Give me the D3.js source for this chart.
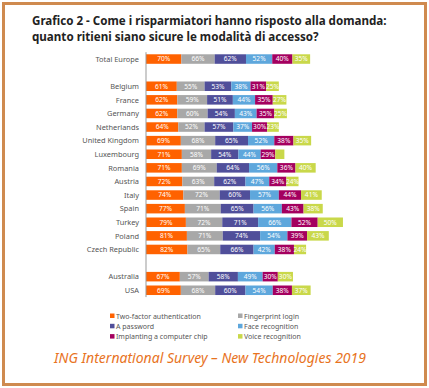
<!DOCTYPE html>
<html>
<head>
<meta charset="utf-8">
<script src="https://cdn.jsdelivr.net/npm/d3@7"></script>
<style>
  body { margin: 0; background: #fff; }
  svg { display: block; }
</style>
</head>
<body>
<svg id="chart" width="429" height="388"></svg>
<script>
// rows ("_gap" entries are empty spacer rows)
var categories = ["Total Europe", "_gap1", "Belgium", "France", "Germany", "Netherlands",
	"United Kingdom", "Luxembourg", "Romania", "Austria", "Italy", "Spain", "Turkey",
	"Poland", "Czech Republic", "_gap2", "Australia", "USA"];

var seriesNames = ["Two-factor authentication", "Fingerprint login", "A password",
	"Face recognition", "Implanting a computer chip", "Voice recognition"];

var twoFactor   = [70, null, 61, 62, 62, 64, 69, 71, 71, 72, 74, 77, 79, 81, 82, null, 67, 69];
var fingerprint = [66, null, 55, 59, 60, 52, 68, 58, 69, 63, 72, 71, 72, 71, 65, null, 57, 68];
var password    = [62, null, 53, 51, 54, 57, 65, 54, 64, 62, 60, 65, 71, 74, 66, null, 58, 60];
var face        = [52, null, 38, 44, 43, 37, 52, 44, 56, 47, 57, 56, 66, 54, 42, null, 49, 54];
var chip        = [40, null, 31, 35, 35, 30, 38, 29, 36, 34, 44, 43, 52, 39, 38, null, 30, 38];
var voice       = [35, null, 25, 27, 25, 23, 35, 18, 40, 24, 41, 38, 50, 43, 24, null, 30, 37];

var titleLines = ["Grafico 2 - Come i risparmiatori hanno risposto alla domanda:",
	"quanto ritieni siano sicure le modalità di accesso?"];

var colors = ["#ff6200", "#a8a8a8", "#504f9a", "#5ea7dc", "#a4005f", "#c9d84a"];

var svg = d3.select("#chart");

// frame
svg.append("rect")
	.attr("x", 3.5).attr("y", 3.5)
	.attr("width", 422).attr("height", 381)
	.style("fill", "#fff")
	.style("stroke", "#cf8a4f")
	.style("stroke-width", 3);

// title
svg.selectAll("text.title")
	.data(titleLines)
	.enter().append("text")
	.attr("class", "title")
	.attr("x", 32)
	.attr("y", function (d, i) { return 25 + i * 16; })
	.style("font-family", "'Noto Sans', sans-serif")
	.style("font-weight", "bold")
	.style("font-size", "11.6px")
	.style("fill", "#222")
	.text(function (d) { return d; });

var x = d3.scaleLinear().domain([0, 400]).range([146, 348]);
var y = d3.scaleBand().domain(categories).range([50.2, 299.1]).padding(0.3);

var allSeries = [twoFactor, fingerprint, password, face, chip, voice];

// build stack input
var rows = categories.map(function (c, i) {
	var r = { cat: c };
	seriesNames.forEach(function (s, j) { r[s] = allSeries[j][i] || 0; });
	return r;
}).filter(function (r) { return r.cat.indexOf("_gap") != 0; });

var stack = d3.stack().keys(seriesNames)(rows);

var layers = svg.selectAll("g.layer")
	.data(stack)
	.enter().append("g")
	.attr("class", "layer")
	.style("fill", function (d, i) { return colors[i]; });

layers.selectAll("rect")
	.data(function (d) { return d; })
	.enter().append("rect")
	.attr("x", function (d) { return x(d[0]); })
	.attr("y", function (d) { return y(d.data.cat); })
	.attr("width", function (d) { return x(d[1]) - x(d[0]); })
	.attr("height", y.bandwidth());

layers.selectAll("text")
	.data(function (d) { return d; })
	.enter().append("text")
	.filter(function (d) { return d[1] - d[0] >= 20; })
	.attr("x", function (d) { return (x(d[0]) + x(d[1])) / 2; })
	.attr("y", function (d) { return y(d.data.cat) + y.bandwidth() / 2 + 2.4; })
	.style("text-anchor", "middle")
	.style("fill", "#fff")
	.style("font-family", "'Noto Sans', sans-serif")
	.style("font-size", "6.6px")
	.text(function (d) { return (d[1] - d[0]) + "%"; });

// category labels
svg.selectAll("text.cat")
	.data(rows)
	.enter().append("text")
	.attr("class", "cat")
	.attr("x", 139)
	.attr("y", function (d) { return y(d.cat) + y.bandwidth() / 2 + 2.8; })
	.style("text-anchor", "end")
	.style("fill", "#555")
	.style("font-family", "'Noto Sans', sans-serif")
	.style("font-size", "7.4px")
	.text(function (d) { return d.cat; });

// axis line
svg.append("line")
	.attr("x1", x(0)).attr("x2", x(0))
	.attr("y1", y.range()[0] + 2).attr("y2", y.range()[1] - 2)
	.style("stroke", "#999")
	.style("stroke-width", 1);

// legend
var legend = svg.selectAll("g.legend")
	.data(seriesNames)
	.enter().append("g")
	.attr("class", "legend")
	.attr("transform", function (d, i) {
		return "translate(" + (i % 2 == 0 ? 110 : 238) + "," + (316 + Math.floor(i / 2) * 10.3) + ")";
	});

legend.append("rect")
	.attr("x", 0).attr("y", -2.5)
	.attr("width", 4.5).attr("height", 4.5)
	.style("fill", function (d, i) { return colors[i]; });

legend.append("text")
	.attr("x", 6).attr("y", 2.5)
	.style("fill", "#555")
	.style("font-family", "'Noto Sans', sans-serif")
	.style("font-size", "7px")
	.text(function (d) { return d; });

// footer
svg.append("text")
	.attr("x", 210).attr("y", 363)
	.style("text-anchor", "middle")
	.style("fill", "#e8731e")
	.style("font-family", "'Noto Sans', sans-serif")
	.style("font-style", "italic")
	.style("font-size", "14px")
	.text("ING International Survey – New Technologies 2019");
</script>
</body>
</html>
